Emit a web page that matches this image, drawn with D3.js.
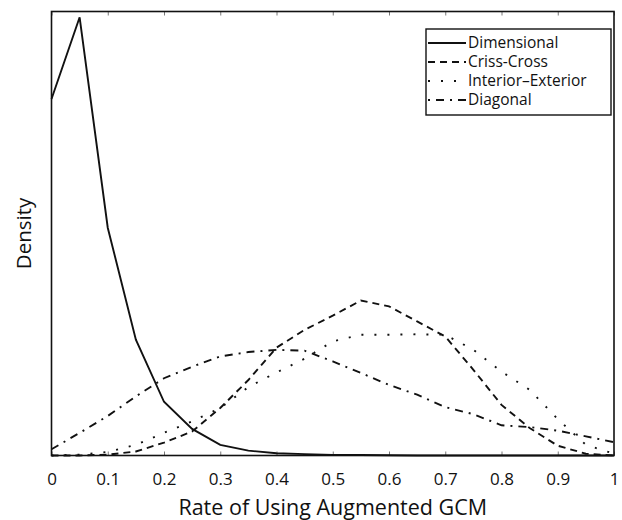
<!DOCTYPE html>
<html>
<head>
<meta charset="utf-8">
<script src="https://cdn.jsdelivr.net/npm/d3@7"></script>
<style>
  body { margin: 0; background: #fff; }
  text { font-family: 'Open Sans', sans-serif; fill: #111; }
</style>
</head>
<body>
<svg width="622" height="520"></svg>
<script>
var svg = d3.select('svg');

var svgWidth = +svg.attr('width');
var svgHeight = +svg.attr('height');

var padding = {t: 11.5, r: 8, b: 64.5, l: 51.5};

var chartWidth = svgWidth - padding.l - padding.r;
var chartHeight = svgHeight - padding.t - padding.b;

// rate values (x) at which the densities were estimated
var rates = [0, 0.05, 0.1, 0.15, 0.2, 0.25, 0.3, 0.35, 0.4, 0.45, 0.5,
             0.55, 0.6, 0.65, 0.7, 0.75, 0.8, 0.85, 0.9, 0.95, 1];

var dimensional = [8.03, 9.87, 5.13, 2.61, 1.21, 0.60, 0.24, 0.11, 0.05, 0.03, 0.015,
                   0.01, 0.005, 0, 0, 0, 0, 0, 0, 0, 0];
var crissCross = [0, 0, 0.02, 0.09, 0.29, 0.54, 1.07, 1.70, 2.43, 2.83, 3.15,
                  3.49, 3.36, 3.02, 2.68, 1.93, 1.14, 0.62, 0.22, 0.04, 0];
var interiorExterior = [0, 0.02, 0.08, 0.24, 0.51, 0.77, 1.07, 1.54, 1.87, 2.18, 2.57,
                        2.72, 2.72, 2.73, 2.72, 2.38, 1.89, 1.48, 0.82, 0.24, 0.04];
var diagonal = [0.14, 0.51, 0.89, 1.33, 1.74, 2.0, 2.23, 2.33, 2.38, 2.36, 2.12,
                1.86, 1.59, 1.37, 1.09, 0.93, 0.68, 0.64, 0.56, 0.43, 0.30];

var seriesNames = ['Dimensional', 'Criss-Cross', 'Interior\u2013Exterior', 'Diagonal'];
var xTicks = [0, 0.1, 0.2, 0.3, 0.4, 0.5, 0.6, 0.7, 0.8, 0.9, 1];

var series = [
    {name: seriesNames[0], values: dimensional, dash: null, offset: 0},
    {name: seriesNames[1], values: crissCross, dash: '7,5', offset: 0},
    {name: seriesNames[2], values: interiorExterior, dash: '2,11', offset: 0},
    {name: seriesNames[3], values: diagonal, dash: '8,6,2,6', offset: 14}
];

var xScale = d3.scaleLinear()
    .domain([0, 1])
    .range([0, chartWidth]);

var yScale = d3.scaleLinear()
    .domain([0, 10])
    .range([chartHeight, 0]);

var chartG = svg.append('g')
    .attr('transform', 'translate(' + [padding.l, padding.t] + ')');

// bottom axis with labels, ticks pointing into the plot
var xAxis = chartG.append('g')
    .attr('transform', 'translate(0,' + chartHeight + ')')
    .call(d3.axisBottom(xScale)
        .tickValues(xTicks)
        .tickSizeInner(-4)
        .tickSizeOuter(0)
        .tickPadding(17)
        .tickFormat(function(d) { return d === 0 ? '0' : d === 1 ? '1' : d3.format('.1f')(d); }));

xAxis.select('.domain').remove();
xAxis.selectAll('line').attr('stroke', '#555').attr('stroke-width', 0.8);
xAxis.selectAll('text')
    .style('font-family', "'Open Sans', sans-serif")
    .style('font-size', '17px')
    .attr('fill', '#111');

// top ticks
var topAxis = chartG.append('g')
    .call(d3.axisTop(xScale)
        .tickValues(xTicks)
        .tickSizeInner(-4)
        .tickSizeOuter(0)
        .tickFormat(''));
topAxis.select('.domain').remove();
topAxis.selectAll('line').attr('stroke', '#555').attr('stroke-width', 0.8);

// plot frame
chartG.append('rect')
    .attr('x', 0)
    .attr('y', 0)
    .attr('width', chartWidth)
    .attr('height', chartHeight)
    .attr('fill', 'none')
    .attr('stroke', '#111')
    .attr('stroke-width', 1.6);

var line = d3.line()
    .x(function(d, i) { return xScale(rates[i]); })
    .y(function(d) { return yScale(d); });

chartG.selectAll('.curve')
    .data(series)
    .enter()
    .append('path')
    .attr('class', 'curve')
    .attr('d', function(d) { return line(d.values); })
    .attr('fill', 'none')
    .attr('stroke', '#111')
    .attr('stroke-width', 1.9)
    .attr('stroke-dasharray', function(d) { return d.dash; });

// axis titles
svg.append('text')
    .attr('x', padding.l + chartWidth / 2)
    .attr('y', 515)
    .attr('text-anchor', 'middle')
    .style('font-size', '21.5px')
    .text('Rate of Using Augmented GCM');

svg.append('text')
    .attr('transform', 'translate(31,' + (padding.t + chartHeight / 2) + ') rotate(-90)')
    .attr('text-anchor', 'middle')
    .style('font-size', '20.5px')
    .text('Density');

// legend
var legend = svg.append('g')
    .attr('transform', 'translate(426,29)');

legend.append('rect')
    .attr('width', 185)
    .attr('height', 86)
    .attr('fill', '#fff')
    .attr('stroke', '#111')
    .attr('stroke-width', 1.4);

var key = legend.selectAll('.swatch')
    .data(series)
    .enter()
    .append('g')
    .attr('class', 'swatch')
    .attr('transform', function(d, i) { return 'translate(0,' + (14 + 19 * i) + ')'; });

key.append('line')
    .attr('x1', 2)
    .attr('x2', 40)
    .attr('y1', 0)
    .attr('y2', 0)
    .attr('stroke', '#111')
    .attr('stroke-width', 1.9)
    .attr('stroke-dasharray', function(d) { return d.dash; })
    .attr('stroke-dashoffset', function(d) { return d.offset; });

key.append('text')
    .attr('x', 42)
    .attr('y', 5)
    .style('font-size', '15.5px')
    .text(function(d) { return d.name; });
</script>
</body>
</html>
